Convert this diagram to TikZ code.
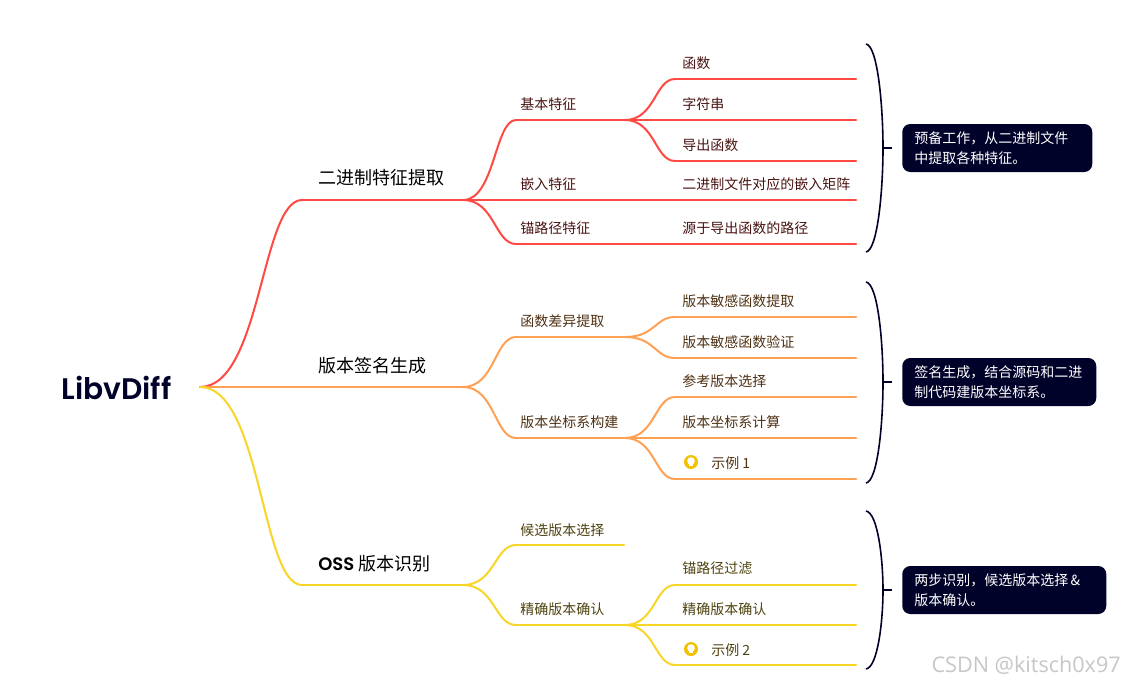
\documentclass[tikz,border=0pt]{standalone}
\usepackage{fontspec}
\usetikzlibrary{calc}
\setmainfont{Noto Sans CJK SC}
\newfontfamily\latinbold{Poppins}[BoldFont={Poppins SemiBold}]
\newfontfamily\markfont{Open Sans}
\definecolor{cred}{HTML}{FF4A44}
\definecolor{corange}{HTML}{FFA154}
\definecolor{cyellow}{HTML}{F8D527}
\definecolor{tred}{HTML}{4A1412}
\definecolor{torange}{HTML}{4F3214}
\definecolor{tyellow}{HTML}{4F430F}
\definecolor{navy}{HTML}{000229}
\definecolor{bulb}{HTML}{F2C200}
\newcommand{\curvelink}[3][black]{%
  \draw[branch,#1] let \p1=(#2), \p2=(#3), \p3=($(#2)!0.6!(#3)$) in
    (#2) .. controls (\x3,\y1) and (\x3,\y2) .. (#3);}
\newcommand{\bulbicon}[1]{%
  \begin{scope}[shift={(#1)}]
    \fill[bulb] (0,0) circle (7);
    \fill[white] (0,-1) circle (3.8);
    \fill[white] (-1.7,0) rectangle (1.7,4);
  \end{scope}}
\tikzset{
  branch/.style={line width=1.5pt,line cap=round},
  lab/.style={anchor=west,inner sep=0pt,font=\fontsize{10.5pt}{12pt}\selectfont},
  lone/.style={anchor=west,inner sep=0pt,text=black,font=\fontsize{13.5pt}{16pt}\selectfont},
  callout/.style={anchor=west,fill=navy,text=white,rounded corners=6pt,inner xsep=9pt,inner ysep=0pt,
    minimum height=36pt,align=left,font=\fontsize{10.5pt}{15pt}\selectfont},
  bracket/.style={draw=navy,line width=1.2pt},
}
\begin{document}
\begin{tikzpicture}[x=0.75pt,y=-0.75pt]
\useasboundingbox[fill=white] (0,0) rectangle (1124,685);

% root
\node[anchor=center,inner sep=0pt,text=navy,font=\latinbold\bfseries\fontsize{22.3pt}{26pt}\selectfont] (root) at (116.5,388) {LibvDiff};
\coordinate (r) at (200,387);

% ---------- red ----------
\coordinate (a0) at (302,200); \coordinate (a1) at (463,200);
\coordinate (b1) at (516,120); \coordinate (b1e) at (625,120);
\coordinate (b2) at (625,200);
\coordinate (b3) at (516,244); \coordinate (b3e) at (625,244);
\coordinate (c1) at (675,79);  \coordinate (c1e) at (856,79);
\coordinate (c2e) at (856,120);
\coordinate (c3) at (675,161); \coordinate (c3e) at (856,161);
\coordinate (c4e) at (856,200);
\coordinate (c5e) at (856,244);
\curvelink[cred]{r}{a0}
\draw[branch,cred] (a0) -- (a1);
\curvelink[cred]{a1}{b1}
\draw[branch,cred] (b1) -- (b1e);
\draw[branch,cred] (a1) -- (b2);
\curvelink[cred]{a1}{b3}
\draw[branch,cred] (b3) -- (b3e);
\curvelink[cred]{b1e}{c1}
\draw[branch,cred] (c1) -- (c1e);
\draw[branch,cred] (b1e) -- (c2e);
\curvelink[cred]{b1e}{c3}
\draw[branch,cred] (c3) -- (c3e);
\draw[branch,cred] (b2) -- (c4e);
\draw[branch,cred] (b3e) -- (c5e);

% ---------- orange ----------
\coordinate (d0) at (302,387); \coordinate (d1) at (463,387);
\coordinate (e1) at (516,337); \coordinate (e1e) at (625,337);
\coordinate (e2) at (516,438); \coordinate (e2e) at (625,438);
\coordinate (f1) at (675,317); \coordinate (f1e) at (856,317);
\coordinate (f2) at (675,358); \coordinate (f2e) at (856,358);
\coordinate (f3) at (675,397); \coordinate (f3e) at (856,397);
\coordinate (f4e) at (856,438);
\coordinate (f5) at (675,479); \coordinate (f5e) at (856,479);
\draw[branch,corange] (r) -- (d0) -- (d1);
\curvelink[corange]{d1}{e1}
\draw[branch,corange] (e1) -- (e1e);
\curvelink[corange]{d1}{e2}
\draw[branch,corange] (e2) -- (e2e);
\curvelink[corange]{e1e}{f1}
\draw[branch,corange] (f1) -- (f1e);
\curvelink[corange]{e1e}{f2}
\draw[branch,corange] (f2) -- (f2e);
\curvelink[corange]{e2e}{f3}
\draw[branch,corange] (f3) -- (f3e);
\draw[branch,corange] (e2e) -- (f4e);
\curvelink[corange]{e2e}{f5}
\draw[branch,corange] (f5) -- (f5e);

% ---------- yellow ----------
\coordinate (g0) at (302,585); \coordinate (g1) at (463,585);
\coordinate (h1) at (516,545); \coordinate (h1e) at (624,545);
\coordinate (h2) at (516,625); \coordinate (h2e) at (625,625);
\coordinate (i1) at (675,585); \coordinate (i1e) at (856,585);
\coordinate (i2e) at (856,625);
\coordinate (i3) at (675,665); \coordinate (i3e) at (856,665);
\curvelink[cyellow]{r}{g0}
\draw[branch,cyellow] (g0) -- (g1);
\curvelink[cyellow]{g1}{h1}
\draw[branch,cyellow] (h1) -- (h1e);
\curvelink[cyellow]{g1}{h2}
\draw[branch,cyellow] (h2) -- (h2e);
\curvelink[cyellow]{h2e}{i1}
\draw[branch,cyellow] (i1) -- (i1e);
\draw[branch,cyellow] (h2e) -- (i2e);
\curvelink[cyellow]{h2e}{i3}
\draw[branch,cyellow] (i3) -- (i3e);

% ---------- first-level labels ----------
\node[lone] (n1) at (318,177.5) {二进制特征提取};
\node[lone] (n2) at (318,365.5) {版本签名生成};
\node[lone] (n3) at (318,563.5) {{\latinbold\bfseries OSS} 版本识别};

% ---------- red labels ----------
\begin{scope}[every node/.append style={text=tred}]
\node[lab] (t1) at (520,104) {基本特征};
\node[lab] (t2) at (520,184) {嵌入特征};
\node[lab] (t3) at (520,228) {锚路径特征};
\node[lab] (t4) at (682,63) {函数};
\node[lab] (t5) at (682,104) {字符串};
\node[lab] (t6) at (682,145) {导出函数};
\node[lab] (t7) at (682,184) {二进制文件对应的嵌入矩阵};
\node[lab] (t8) at (682,228) {源于导出函数的路径};
\end{scope}

% ---------- orange labels ----------
\begin{scope}[every node/.append style={text=torange}]
\node[lab] (u1) at (520,321) {函数差异提取};
\node[lab] (u2) at (520,422) {版本坐标系构建};
\node[lab] (u3) at (682,301) {版本敏感函数提取};
\node[lab] (u4) at (682,342) {版本敏感函数验证};
\node[lab] (u5) at (682,381) {参考版本选择};
\node[lab] (u6) at (682,422) {版本坐标系计算};
\node[lab] (u7) at (711,463) {示例 1};
\end{scope}
\bulbicon{691,462}

% ---------- yellow labels ----------
\begin{scope}[every node/.append style={text=tyellow}]
\node[lab] (v1) at (520,530) {候选版本选择};
\node[lab] (v2) at (520,609) {精确版本确认};
\node[lab] (v3) at (682,568) {锚路径过滤};
\node[lab] (v4) at (682,609) {精确版本确认};
\node[lab] (v5) at (711,650) {示例 2};
\end{scope}
\bulbicon{691,649}

% ---------- brackets and callouts ----------
\coordinate (p1a) at (866,44);  \coordinate (p1b) at (866,252);
\coordinate (q1) at (883,148);  \coordinate (q1e) at (892,148);
\coordinate (p2a) at (866,282); \coordinate (p2b) at (866,483);
\coordinate (q2) at (883,382);  \coordinate (q2e) at (892,382);
\coordinate (p3a) at (866,511); \coordinate (p3b) at (866,669);
\coordinate (q3) at (883,590);  \coordinate (q3e) at (892,590);
\draw[bracket] (p1a) .. controls +(12,2) and ($(q1)+(0,-40)$) .. (q1) .. controls ($(q1)+(0,40)$) and ($(p1b)+(12,-2)$) .. (p1b);
\draw[bracket] (q1) -- (q1e);
\draw[bracket] (p2a) .. controls +(12,2) and ($(q2)+(0,-40)$) .. (q2) .. controls ($(q2)+(0,40)$) and ($(p2b)+(12,-2)$) .. (p2b);
\draw[bracket] (q2) -- (q2e);
\draw[bracket] (p3a) .. controls +(12,2) and ($(q3)+(0,-30)$) .. (q3) .. controls ($(q3)+(0,30)$) and ($(p3b)+(12,-2)$) .. (p3b);
\draw[bracket] (q3) -- (q3e);
\node[callout,text width=124.5pt] (k1) at (902,148) {预备工作，从二进制文件\\中提取各种特征。};
\node[callout,text width=127.5pt] (k2) at (902,382) {签名生成，结合源码和二进\\制代码建版本坐标系。};
\node[callout,text width=135pt] (k3) at (902,590) {两步识别，候选版本选择\,\&\\版本确认。};

% watermark
\node[anchor=east,inner sep=0pt,text=black!22,font=\markfont\fontsize{16.2pt}{18pt}\selectfont] (wm) at (1121,665) {CSDN @kitsch0x97};
\end{tikzpicture}
\end{document}
